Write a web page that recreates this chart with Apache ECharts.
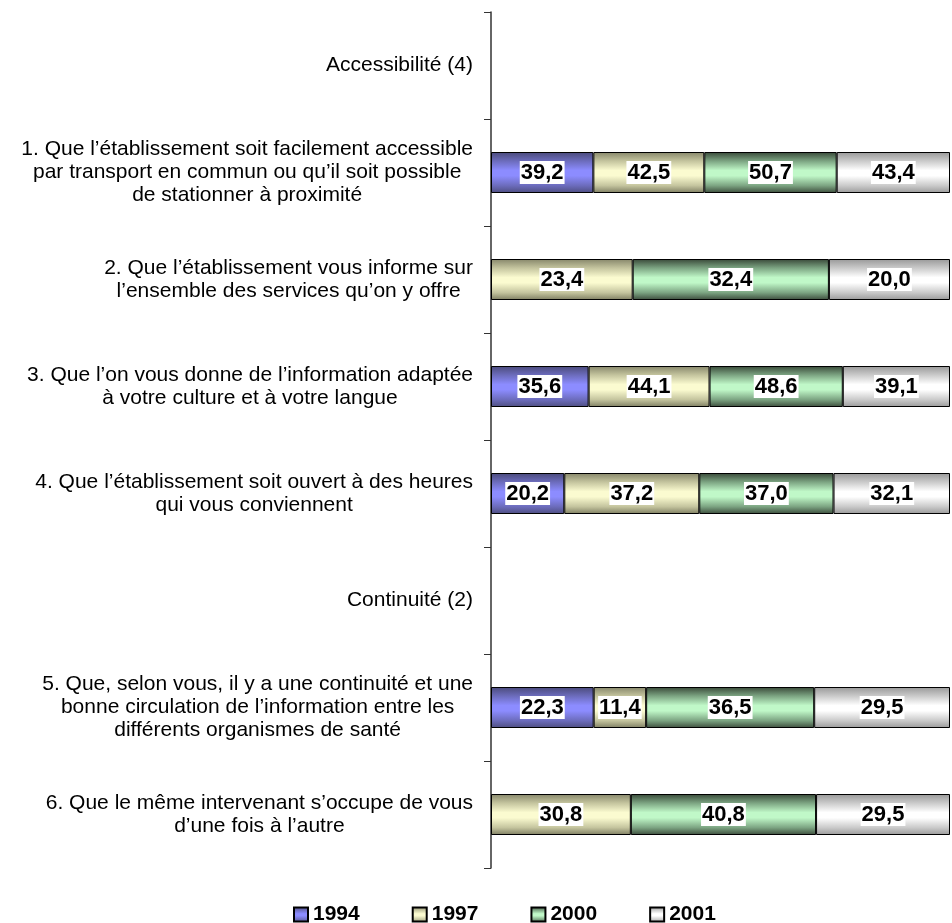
<!DOCTYPE html>
<html>
<head>
<meta charset="utf-8">
<script src="https://cdn.jsdelivr.net/npm/echarts@6/dist/echarts.min.js"></script>
<style>
html,body{margin:0;padding:0;background:#fff;}
#chart{width:952px;height:923px;}
</style>
</head>
<body>
<div id="chart"></div>
<script>
var categories = [
  "Accessibilité (4)",
  "1. Que l’établissement soit facilement accessible\npar transport en commun ou qu’il soit possible\nde stationner à proximité",
  "2. Que l’établissement vous informe sur\nl’ensemble des services qu’on y offre",
  "3. Que l’on vous donne de l’information adaptée\nà votre culture et à votre langue",
  "4. Que l’établissement soit ouvert à des heures\nqui vous conviennent",
  "Continuité (2)",
  "5. Que, selon vous, il y a une continuité et une\nbonne circulation de l’information entre les\ndifférents organismes de santé",
  "6. Que le même intervenant s’occupe de vous\nd’une fois à l’autre"
];
var seriesNames = ["1994", "1997", "2000", "2001"];
var v1994 = [null, 39.2, null, 35.6, 20.2, null, 22.3, null];
var v1997 = [null, 42.5, 23.4, 44.1, 37.2, null, 11.4, 30.8];
var v2000 = [null, 50.7, 32.4, 48.6, 37.0, null, 36.5, 40.8];
var v2001 = [null, 43.4, 20.0, 39.1, 32.1, null, 29.5, 29.5];

var allValues = [v1994, v1997, v2000, v2001];

function grad(edge, mid, center, edge2) {
  return new echarts.graphic.LinearGradient(0, 0, 0, 1, [
    {offset: 0, color: edge},
    {offset: 0.22, color: mid},
    {offset: 0.45, color: center},
    {offset: 0.58, color: center},
    {offset: 0.82, color: mid},
    {offset: 1, color: edge2}
  ]);
}
var fills = [
  grad('#4a4a7a', '#6c6cbc', '#8c8cff', '#4e4e80'),
  grad('#86866a', '#c4c49e', '#fbfbd0', '#7e7e62'),
  grad('#384838', '#7ca482', '#c0f8c8', '#3c4c3c'),
  grad('#989898', '#cacaca', '#ffffff', '#9a9a9a')
];

// row totals for 100% stacking
var totals = categories.map(function (c, i) {
  var s = 0;
  allValues.forEach(function (arr) { if (arr[i] != null) s += arr[i]; });
  return s;
});

var series = seriesNames.map(function (name, k) {
  return {
    name: name,
    type: 'bar',
    stack: 'total',
    barWidth: 41,
    itemStyle: { color: fills[k], borderColor: '#000', borderWidth: 1 },
    label: {
      show: true,
      position: 'inside',
      formatter: function (p) { return p.data.raw.toFixed(1).replace('.', ','); },
      fontFamily: 'Liberation Sans',
      fontWeight: 'bold',
      fontSize: 22,
      color: '#000',
      backgroundColor: '#fff',
      padding: [1, 1, 0, 1],
      lineHeight: 22
    },
    emphasis: { disabled: true },
    data: allValues[k].map(function (v, i) {
      if (v == null) return { value: null, raw: null };
      return { value: v / totals[i] * 100, raw: v };
    })
  };
});

var chart = echarts.init(document.getElementById('chart'), null, {renderer: 'canvas'});
chart.setOption({
  animation: false,
  backgroundColor: '#fff',
  grid: { left: 491, right: 2, top: 12, bottom: 55, containLabel: false },
  legend: {
    left: 288,
    top: 899,
    itemWidth: 14,
    itemHeight: 14,
    itemGap: 52,
    icon: 'rect',
    data: seriesNames,
    textStyle: { fontFamily: 'Liberation Sans', fontWeight: 'bold', fontSize: 21, color: '#000' }
  },
  xAxis: { type: 'value', min: 0, max: 100, show: false },
  yAxis: {
    type: 'category',
    inverse: true,
    data: categories,
    axisLine: { show: true, lineStyle: { color: '#333', width: 1.5 } },
    axisTick: { show: true, length: 7, lineStyle: { color: '#333', width: 1 } },
    axisLabel: {
      margin: 18,
      align: 'right',
      formatter: function (val) {
        return val.split('\n').map(function (l) { return '{c|' + l + '}'; }).join('\n');
      },
      rich: {
        c: { align: 'center', fontFamily: 'Liberation Sans', fontSize: 21, lineHeight: 23, color: '#000' }
      }
    },
    splitLine: { show: false }
  },
  series: series
});
</script>
</body>
</html>
